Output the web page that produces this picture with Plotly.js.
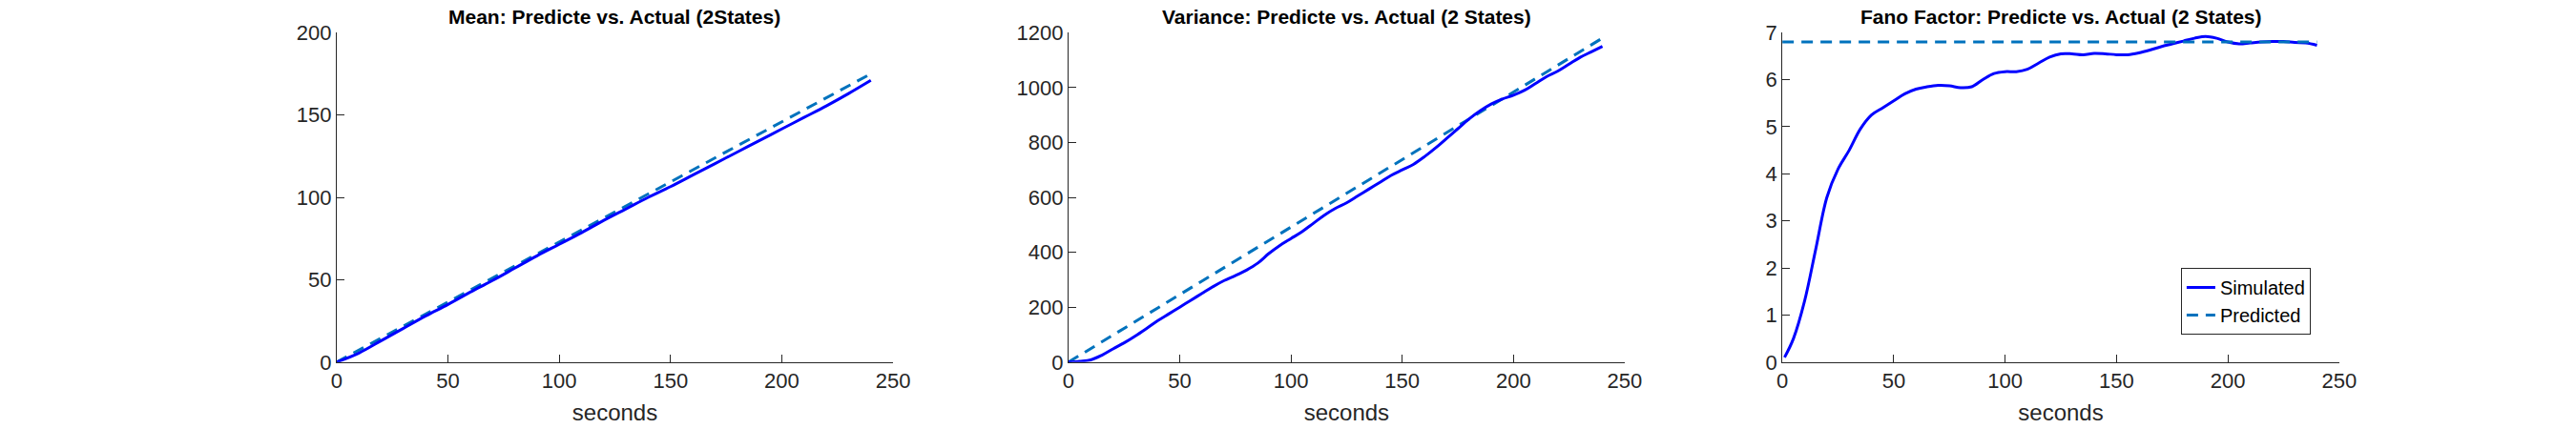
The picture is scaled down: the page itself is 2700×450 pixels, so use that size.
<!DOCTYPE html>
<html>
<head>
<meta charset="utf-8">
<script src="https://cdn.plot.ly/plotly-3.0.1.min.js"></script>
<style>body{margin:0;background:#fff;} #chart{width:2700px;height:450px;}</style>
</head>
<body>
<div id="chart"></div>
<script>
var tFine = [0,5,10,15,20,25,30,35,40,45,50,55,60,65,70,75,80,85,90,95,100,105,110,115,120,125,130,135,140,145,150,155,160,165,170,175,180,185,190,195,200,205,210,215,220,225,230,235,240];
var tMean = [0,10,20,30,40,50,60,70,80,90,100,110,120,130,140,150,160,170,180,190,200,210,220,230,240];
var meanSim = [0,5.5,13,20.5,28,35,42.5,49.5,57,64.5,71.5,78.5,86,93,100,106.5,113.5,120.5,127.5,134.5,141.5,148.5,155.5,163,171];
var tLine = [0,240];
var meanPred = [0,175];
var varSim = [0,3,8,25,48,70,95,122,150,175,200,225,250,275,297,315,335,360,395,425,450,475,505,535,560,580,605,630,655,680,700,720,748,780,815,850,885,915,940,958,972,990,1015,1040,1060,1085,1110,1130,1150];
var varPred = [0,1180];
var fanoSim = [0.1,0.5,1.3,2.4,3.5,4.1,4.5,4.95,5.25,5.4,5.55,5.7,5.8,5.85,5.88,5.87,5.83,5.85,6.0,6.13,6.17,6.17,6.22,6.35,6.48,6.55,6.55,6.53,6.56,6.55,6.53,6.53,6.57,6.63,6.7,6.76,6.82,6.88,6.92,6.88,6.8,6.76,6.78,6.8,6.81,6.81,6.79,6.78,6.73];
var fanoPred = [6.8,6.8];
var tFano = tFine.slice(); tFano[0] = 1;

var simColor = '#0000ff', predColor = '#0072bd';
var font = 'Liberation Sans, Arial, sans-serif';

function sim(x, y, ax, show) {
  return {x: x, y: y, xaxis: 'x' + ax, yaxis: 'y' + ax, type: 'scatter', mode: 'lines',
    line: {color: simColor, width: 3, shape: 'spline'}, name: 'Simulated', showlegend: show};
}
function pred(x, y, ax, show) {
  return {x: x, y: y, xaxis: 'x' + ax, yaxis: 'y' + ax, type: 'scatter', mode: 'lines',
    line: {color: predColor, width: 3, dash: '12px,8px'}, name: 'Predicted', showlegend: show};
}

var data = [
  pred(tLine, meanPred, '', false), sim(tMean, meanSim, '', false),
  pred(tLine, varPred, '2', false), sim(tFine, varSim, '2', false),
  sim(tFano, fanoSim, '3', true), pred(tLine, fanoPred, '3', true)
];

function xax(dom, anchor) {
  return {domain: dom, anchor: anchor, range: [0, 250], tickvals: [0,50,100,150,200,250],
    ticks: 'inside', ticklen: 8, tickcolor: '#262626', showline: true, linecolor: '#262626',
    showgrid: false, zeroline: false, tickfont: {size: 22, color: '#262626', family: font},
    title: {text: 'seconds', font: {size: 24, color: '#262626', family: font}, standoff: 12}};
}
function yax(dom, anchor, range, dt) {
  return {domain: [0.156, 0.924], anchor: anchor, range: range, dtick: dt,
    ticks: 'inside', ticklen: 8, tickcolor: '#262626', showline: true, linecolor: '#262626',
    showgrid: false, zeroline: false, tickfont: {size: 22, color: '#262626', family: font}};
}
function title(text, xc) {
  return {text: '<b>' + text + '</b>', xref: 'paper', yref: 'paper', x: xc, y: 0.93,
    xanchor: 'center', yanchor: 'bottom', showarrow: false, font: {size: 21, color: '#000', family: font}};
}

var layout = {
  width: 2700, height: 450,
  margin: {l: 0, r: 0, t: 0, b: 0},
  paper_bgcolor: '#fff', plot_bgcolor: '#fff',
  xaxis: xax([0.1307, 0.3467], 'y'), yaxis: yax(null, 'x', [0, 200], 50),
  xaxis2: xax([0.4148, 0.6307], 'y2'), yaxis2: yax(null, 'x2', [0, 1200], 200),
  xaxis3: xax([0.6919, 0.9081], 'y3'), yaxis3: yax(null, 'x3', [0, 7], 1),
  annotations: [
    title('Mean: Predicte vs. Actual (2States)', 0.2387),
    title('Variance: Predicte vs. Actual (2 States)', 0.5228),
    title('Fano Factor: Predicte vs. Actual (2 States)', 0.8)
  ],
  legend: {x: 0.897, y: 0.22, xanchor: 'right', yanchor: 'bottom', bgcolor: '#fff',
    bordercolor: '#262626', borderwidth: 1, font: {size: 20, color: '#000', family: font}}
};

Plotly.newPlot('chart', data, layout, {displayModeBar: false});
</script>
</body>
</html>
